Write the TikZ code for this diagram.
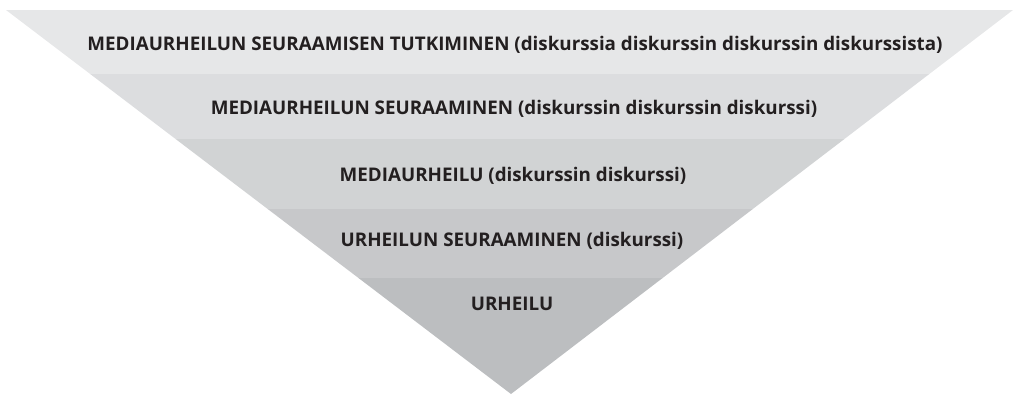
\documentclass[tikz,border=0pt]{standalone}
\usepackage{fontspec}
\setmainfont{Open Sans}
\definecolor{b1}{HTML}{E6E7E8}
\definecolor{b2}{HTML}{DCDDDF}
\definecolor{b3}{HTML}{D1D3D4}
\definecolor{b4}{HTML}{C7C8CA}
\definecolor{b5}{HTML}{BCBEC0}
\definecolor{txt}{HTML}{231F20}
\begin{document}
\begin{tikzpicture}[x=1pt,y=-1pt,
  lbl/.style={text=txt,font=\fontsize{18.8}{20}\selectfont\bfseries,inner sep=0pt,anchor=center}]
\useasboundingbox (0,0) rectangle (1014,394);
\fill[b1] (6,10) -- (1013,10) -- (929.3,74) -- (90.2,74) -- cycle;
\fill[b2] (90.2,74) -- (929.3,74) -- (844.4,139) -- (175.6,139) -- cycle;
\fill[b3] (175.6,139) -- (844.4,139) -- (752.8,209) -- (267.7,209) -- cycle;
\fill[b4] (267.7,209) -- (752.8,209) -- (662.6,278) -- (358.5,278) -- cycle;
\fill[b5] (358.5,278) -- (662.6,278) -- (511,394) -- cycle;
\node[lbl] (t1) at (515,45) {MEDIAURHEILUN SEURAAMISEN TUTKIMINEN (diskurssia diskurssin diskurssin diskurssista)};
\node[lbl] (t2) at (514,109) {MEDIAURHEILUN SEURAAMINEN (diskurssin diskurssin diskurssi)};
\node[lbl] (t3) at (513,176) {MEDIAURHEILU (diskurssin diskurssi)};
\node[lbl] (t4) at (512,241) {URHEILUN SEURAAMINEN (diskurssi)};
\node[lbl] (t5) at (512,304) {URHEILU};
\end{tikzpicture}
\end{document}
